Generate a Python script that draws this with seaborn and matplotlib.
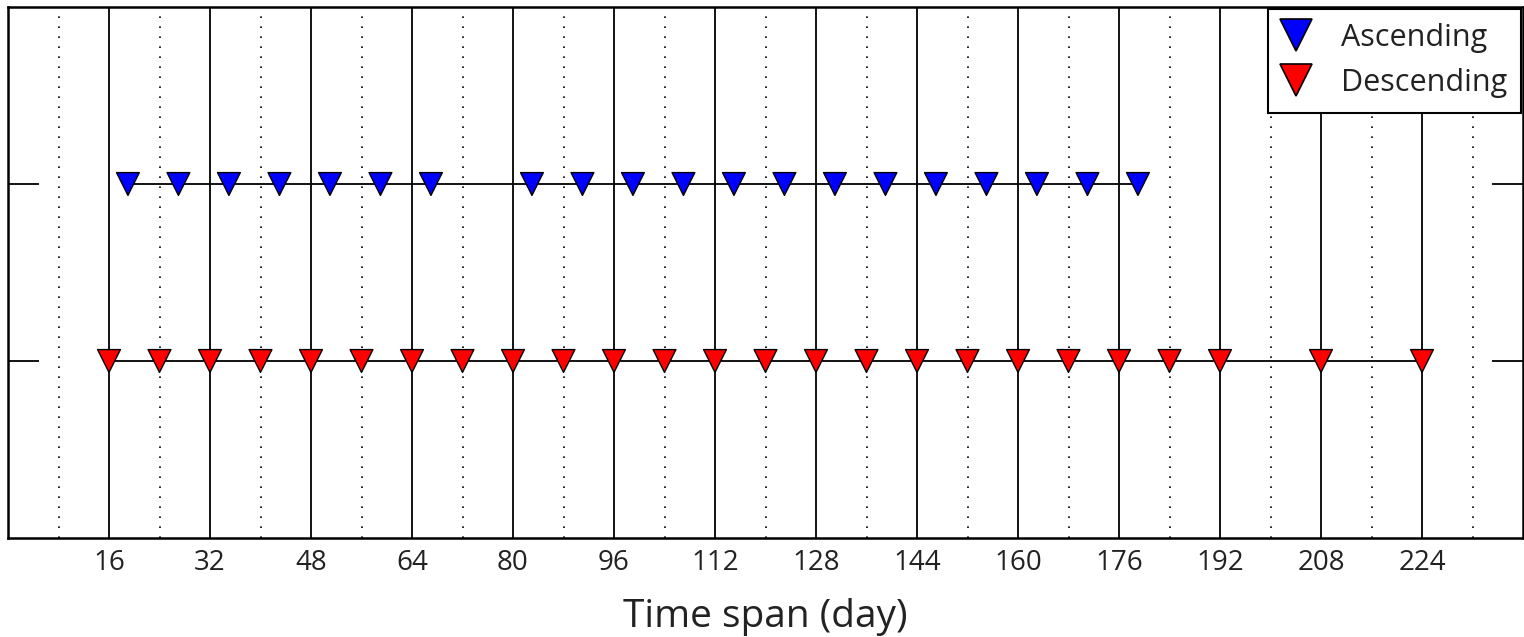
import numpy as np
import pandas as pd
import matplotlib
matplotlib.use("Agg")
import matplotlib.pyplot as plt
from matplotlib.lines import Line2D
import seaborn as sns

# Acquisition time spans (days) for each orbit direction
ascending_days = [19, 27, 35, 43, 51, 59, 67, 83, 91, 99, 107, 115, 123, 131,
                  139, 147, 155, 163, 171, 179]
descending_days = [16, 24, 32, 40, 48, 56, 64, 72, 80, 88, 96, 104, 112, 120,
                   128, 136, 144, 152, 160, 168, 176, 184, 192, 208, 224]
orbit_names = ["Ascending", "Descending"]
orbit_levels = [2, 1]
orbit_colors = ["#0000ff", "#ff0000"]
tick_days = [16, 32, 48, 64, 80, 96, 112, 128, 144, 160, 176, 192, 208, 224]

sns.set_theme(style="white")
plt.rcParams["font.family"] = ["Open Sans", "DejaVu Sans"]

df = pd.concat([
    pd.DataFrame({"day": ascending_days, "level": orbit_levels[0], "orbit": orbit_names[0]}),
    pd.DataFrame({"day": descending_days, "level": orbit_levels[1], "orbit": orbit_names[1]}),
], ignore_index=True)
palette = dict(zip(orbit_names, orbit_colors))

fig = plt.figure(figsize=(15.24, 6.37), dpi=100)
ax = fig.add_axes([8 / 1524, 99 / 637, 1515 / 1524, 531 / 637])

# connecting line for each orbit
sns.lineplot(data=df, x="day", y="level", units="orbit", estimator=None,
             color="black", lw=1.3, legend=False, ax=ax, zorder=2)
# triangle markers
sns.scatterplot(data=df, x="day", y="level", hue="orbit", palette=palette,
                marker="v", s=270, edgecolor="black", linewidth=1.0,
                legend=False, ax=ax, zorder=3)

ax.set_xlim(0, 240)
ax.set_ylim(0, 3)
ax.set_xticks(tick_days)
ax.set_xticks(np.arange(8, 240, 16), minor=True)
ax.set_yticks(orbit_levels)
ax.set_yticklabels([])
ax.set_ylabel("")

ax.grid(which="major", axis="x", color="black", lw=1.3, ls="-", zorder=1)
ax.grid(which="minor", axis="x", color="black", lw=1.2, ls=(0, (1, 5)), zorder=1)
ax.grid(which="major", axis="y", visible=False)
ax.set_axisbelow(True)

ax.tick_params(axis="x", which="both", length=0, labelsize=20, pad=8, colors="#222222")
ax.tick_params(axis="y", which="major", direction="in", length=22, width=1.3,
               left=True, right=True, labelleft=False, color="black")
for sp in ax.spines.values():
    sp.set_color("black")
    sp.set_linewidth(1.8)

ax.set_xlabel("Time span (day)", fontsize=28, labelpad=15, color="#222222")

handles = [Line2D([], [], ls="none", marker="v", markersize=23,
                  markerfacecolor=c, markeredgecolor="black", markeredgewidth=1.2)
           for c in orbit_colors]
leg = ax.legend(handles, orbit_names, loc="upper right", fontsize=22,
                frameon=True, fancybox=False, framealpha=1, edgecolor="black",
                borderaxespad=0.05, borderpad=0.47, handlelength=0.85,
                handletextpad=1.05, labelspacing=0.5)
leg.get_frame().set_linewidth(1.5)
for t in leg.get_texts():
    t.set_color("#222222")

fig.savefig("out.png", dpi=100)
